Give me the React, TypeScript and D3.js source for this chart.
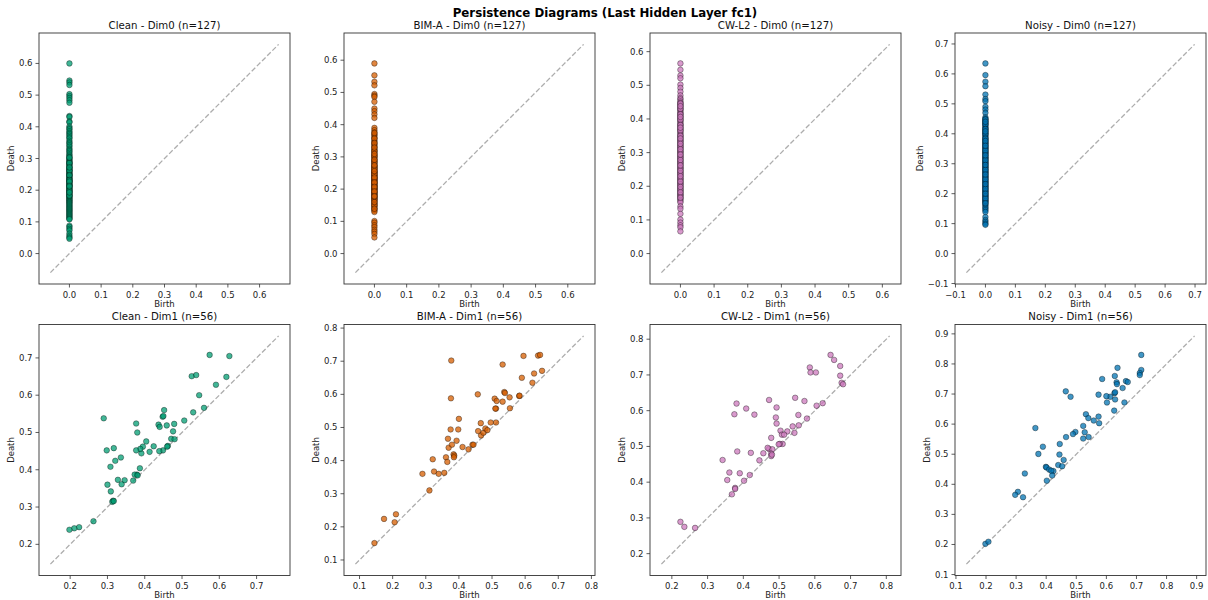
import React from "react";
import * as d3 from "d3";

const suptitle = "Persistence Diagrams (Last Hidden Layer fc1)";
const conditions = ["Clean", "BIM-A", "CW-L2", "Noisy"];
const colors = ["#029e73", "#d55e00", "#cc78bc", "#0173b2"];

// Dim0 deaths (births are all 0)
const cleanDim0 = [0.600, 0.546, 0.540, 0.532, 0.503, 0.497, 0.491, 0.484, 0.476, 0.434, 0.431, 0.417, 0.414,
  0.401, 0.396, 0.392, 0.386, 0.381, 0.377, 0.372, 0.367, 0.363, 0.356, 0.351, 0.347, 0.342, 0.337, 0.331, 0.327, 0.323, 0.318, 0.313, 0.309,
  0.305, 0.301, 0.298, 0.294, 0.291, 0.288, 0.285, 0.283, 0.280, 0.277, 0.274, 0.271, 0.269, 0.266, 0.263, 0.261, 0.258, 0.255, 0.253, 0.250,
  0.248, 0.246, 0.243, 0.241, 0.238, 0.236, 0.233, 0.231, 0.228, 0.226, 0.224, 0.221, 0.219, 0.216, 0.214, 0.211, 0.209, 0.206, 0.204, 0.202,
  0.199, 0.196, 0.194, 0.191, 0.189, 0.186, 0.184, 0.181, 0.179, 0.176, 0.174, 0.171, 0.168, 0.166, 0.163, 0.161, 0.158, 0.155, 0.152, 0.149,
  0.146, 0.143, 0.140, 0.137, 0.134, 0.131, 0.128, 0.125, 0.122, 0.119, 0.116, 0.113, 0.110, 0.108,
  0.088, 0.084, 0.078, 0.073, 0.063, 0.056, 0.051, 0.047,
  0.262, 0.247, 0.232, 0.215, 0.198, 0.183, 0.286, 0.303, 0.227, 0.212, 0.193, 0.272];

const bimDim0 = [0.590, 0.553, 0.533, 0.522, 0.495, 0.490, 0.486, 0.471, 0.450, 0.442, 0.432, 0.421,
  0.390, 0.383, 0.376, 0.370, 0.366, 0.361, 0.356, 0.350, 0.346, 0.341, 0.337, 0.333, 0.328, 0.324, 0.320, 0.316, 0.312, 0.308, 0.304, 0.300,
  0.297, 0.293, 0.289, 0.286, 0.282, 0.279, 0.275, 0.272, 0.268, 0.265, 0.262, 0.258, 0.255, 0.252, 0.249, 0.246, 0.243, 0.240, 0.237, 0.234,
  0.231, 0.228, 0.225, 0.222, 0.219, 0.216, 0.213, 0.210, 0.207, 0.204, 0.201, 0.198, 0.195, 0.192, 0.189, 0.186, 0.183, 0.180, 0.177, 0.174,
  0.171, 0.168, 0.165, 0.162, 0.158, 0.155, 0.152, 0.148, 0.145, 0.141, 0.137, 0.133, 0.129,
  0.101, 0.096, 0.088, 0.082, 0.074, 0.068, 0.061, 0.050,
  0.357, 0.343, 0.318, 0.302, 0.284, 0.270, 0.253, 0.241, 0.226, 0.211, 0.199, 0.184, 0.169, 0.150, 0.374, 0.329, 0.291, 0.263, 0.247, 0.232,
  0.218, 0.203, 0.190, 0.176, 0.160, 0.139, 0.309, 0.274, 0.256, 0.236, 0.221, 0.207, 0.193, 0.178];

const cwDim0 = [0.565, 0.546, 0.529, 0.521, 0.502, 0.492, 0.481, 0.470, 0.462, 0.458,
  0.452, 0.448, 0.444, 0.440, 0.436, 0.432, 0.428, 0.424, 0.420, 0.416, 0.412, 0.408, 0.404, 0.400, 0.396, 0.392, 0.388, 0.384, 0.380, 0.376,
  0.372, 0.368, 0.364, 0.360, 0.356, 0.352, 0.348, 0.344, 0.340, 0.336, 0.332, 0.328, 0.324, 0.320, 0.316, 0.312, 0.308, 0.304, 0.300, 0.296,
  0.292, 0.288, 0.284, 0.280, 0.276, 0.272, 0.268, 0.264, 0.260, 0.256, 0.252, 0.248, 0.244, 0.240, 0.236, 0.232, 0.228, 0.224, 0.220, 0.216,
  0.212, 0.208, 0.204, 0.200, 0.196, 0.192, 0.188, 0.184, 0.180, 0.176, 0.172, 0.168, 0.164, 0.160, 0.156, 0.152,
  0.140, 0.133, 0.118, 0.101, 0.092, 0.084, 0.078, 0.066,
  0.446, 0.430, 0.414, 0.398, 0.382, 0.366, 0.350, 0.334, 0.318, 0.302, 0.286, 0.270, 0.254, 0.238, 0.222, 0.206, 0.190, 0.174, 0.438, 0.406,
  0.374, 0.342, 0.310, 0.278, 0.246, 0.214, 0.182, 0.326, 0.294, 0.262, 0.230, 0.198, 0.166];

const noisyDim0 = [0.635, 0.596, 0.574, 0.559, 0.531, 0.516, 0.509, 0.490, 0.481, 0.470,
  0.455, 0.450, 0.446, 0.442, 0.438, 0.434, 0.430, 0.426, 0.422, 0.418, 0.414, 0.410, 0.406, 0.402, 0.398, 0.394, 0.390, 0.386, 0.382, 0.378,
  0.374, 0.370, 0.366, 0.362, 0.358, 0.354, 0.350, 0.346, 0.342, 0.338, 0.334, 0.330, 0.326, 0.322, 0.318, 0.314, 0.310, 0.306, 0.302, 0.298,
  0.294, 0.290, 0.286, 0.282, 0.278, 0.274, 0.270, 0.266, 0.262, 0.258, 0.254, 0.250, 0.246, 0.242, 0.238, 0.234, 0.230, 0.226, 0.222, 0.218,
  0.214, 0.210, 0.206, 0.202, 0.198, 0.194, 0.190, 0.186, 0.182, 0.178, 0.174, 0.170, 0.165, 0.160, 0.155, 0.150,
  0.122, 0.112, 0.106, 0.100, 0.096,
  0.448, 0.432, 0.416, 0.400, 0.384, 0.368, 0.352, 0.336, 0.320, 0.304, 0.288, 0.272, 0.256, 0.240, 0.224, 0.208, 0.192, 0.176, 0.440, 0.408,
  0.376, 0.344, 0.312, 0.280, 0.248, 0.216, 0.184, 0.360, 0.328, 0.296, 0.264, 0.232, 0.200, 0.168, 0.145, 0.139];

// Dim1 births / deaths
const cleanDim1Birth = [0.574, 0.627, 0.526, 0.538, 0.619, 0.591, 0.546, 0.530, 0.559, 0.506, 0.452, 0.448, 0.450, 0.437, 0.440, 0.459, 0.479, 0.476, 0.471, 0.480,
  0.462, 0.460, 0.449, 0.439, 0.424, 0.404, 0.413, 0.395, 0.391, 0.388, 0.377, 0.380, 0.377, 0.290, 0.298, 0.317, 0.336, 0.321, 0.308, 0.387,
  0.379, 0.373, 0.381, 0.369, 0.346, 0.328, 0.338, 0.300, 0.309, 0.315, 0.313, 0.317, 0.2625, 0.224, 0.211, 0.198];
const cleanDim1Death = [0.708, 0.705, 0.651, 0.654, 0.649, 0.628, 0.600, 0.554, 0.566, 0.532, 0.560, 0.542, 0.544, 0.521, 0.515, 0.519, 0.523, 0.503, 0.483, 0.482,
  0.464, 0.462, 0.452, 0.450, 0.463, 0.476, 0.448, 0.462, 0.444, 0.456, 0.452, 0.500, 0.524, 0.538, 0.452, 0.458, 0.433, 0.424, 0.408, 0.404,
  0.387, 0.387, 0.385, 0.371, 0.372, 0.373, 0.361, 0.360, 0.342, 0.317, 0.314, 0.316, 0.262, 0.246, 0.243, 0.239];

const bimDim1Birth = [0.377, 0.532, 0.595, 0.639, 0.645, 0.590, 0.627, 0.651, 0.622, 0.376, 0.457, 0.508, 0.512, 0.510, 0.514, 0.532, 0.537, 0.539, 0.553, 0.582,
  0.583, 0.554, 0.512, 0.496, 0.466, 0.458, 0.467, 0.474, 0.480, 0.486, 0.400, 0.375, 0.398, 0.367, 0.393, 0.369, 0.379, 0.411, 0.384, 0.386,
  0.385, 0.361, 0.365, 0.441, 0.444, 0.429, 0.321, 0.290, 0.325, 0.339, 0.356, 0.311, 0.210, 0.174, 0.206, 0.145];
const bimDim1Death = [0.702, 0.690, 0.716, 0.717, 0.719, 0.650, 0.663, 0.671, 0.635, 0.588, 0.600, 0.587, 0.557, 0.557, 0.580, 0.578, 0.607, 0.604, 0.591, 0.595,
  0.596, 0.558, 0.515, 0.515, 0.513, 0.489, 0.476, 0.484, 0.497, 0.492, 0.526, 0.494, 0.494, 0.466, 0.460, 0.439, 0.448, 0.441, 0.419, 0.415,
  0.410, 0.410, 0.396, 0.448, 0.448, 0.434, 0.404, 0.360, 0.367, 0.360, 0.363, 0.310, 0.238, 0.224, 0.214, 0.151];

const cwDim1Birth = [0.644, 0.654, 0.671, 0.586, 0.588, 0.603, 0.671, 0.675, 0.679, 0.472, 0.545, 0.571, 0.381, 0.408, 0.375, 0.431, 0.493, 0.491, 0.493, 0.554,
  0.605, 0.622, 0.578, 0.538, 0.555, 0.523, 0.543, 0.504, 0.508, 0.514, 0.478, 0.510, 0.502, 0.499, 0.472, 0.481, 0.456, 0.478, 0.478, 0.480,
  0.383, 0.421, 0.445, 0.342, 0.361, 0.390, 0.355, 0.402, 0.418, 0.377, 0.377, 0.368, 0.224, 0.235, 0.265, 0.468];
const cwDim1Death = [0.756, 0.742, 0.725, 0.721, 0.707, 0.707, 0.698, 0.678, 0.674, 0.630, 0.636, 0.627, 0.620, 0.606, 0.590, 0.589, 0.609, 0.581, 0.564, 0.588,
  0.614, 0.621, 0.578, 0.556, 0.559, 0.542, 0.538, 0.544, 0.533, 0.533, 0.524, 0.507, 0.507, 0.506, 0.493, 0.492, 0.481, 0.480, 0.473, 0.477,
  0.486, 0.482, 0.461, 0.462, 0.427, 0.425, 0.406, 0.404, 0.420, 0.384, 0.381, 0.366, 0.289, 0.275, 0.272, 0.496];

const noisyDim1Birth = [0.716, 0.637, 0.716, 0.711, 0.711, 0.586, 0.628, 0.665, 0.671, 0.634, 0.635, 0.654, 0.627, 0.629, 0.613, 0.600, 0.602, 0.629, 0.660, 0.574,
  0.626, 0.465, 0.481, 0.574, 0.576, 0.558, 0.532, 0.540, 0.523, 0.528, 0.523, 0.541, 0.497, 0.489, 0.466, 0.364, 0.445, 0.389, 0.374, 0.444,
  0.458, 0.399, 0.401, 0.410, 0.424, 0.417, 0.440, 0.453, 0.420, 0.402, 0.329, 0.306, 0.297, 0.323, 0.198, 0.208];
const noisyDim1Death = [0.830, 0.787, 0.780, 0.770, 0.763, 0.750, 0.760, 0.743, 0.740, 0.739, 0.733, 0.720, 0.703, 0.706, 0.691, 0.693, 0.672, 0.682, 0.672, 0.698,
  0.645, 0.709, 0.691, 0.625, 0.603, 0.612, 0.633, 0.620, 0.594, 0.573, 0.552, 0.557, 0.574, 0.567, 0.557, 0.587, 0.534, 0.525, 0.501, 0.499,
  0.481, 0.458, 0.456, 0.449, 0.444, 0.445, 0.464, 0.460, 0.429, 0.412, 0.436, 0.375, 0.365, 0.357, 0.202, 0.209];

const dim0Deaths = [cleanDim0, bimDim0, cwDim0, noisyDim0];
const dim1Births = [cleanDim1Birth, bimDim1Birth, cwDim1Birth, noisyDim1Birth];
const dim1Deaths = [cleanDim1Death, bimDim1Death, cwDim1Death, noisyDim1Death];

const FONT = "DejaVu Sans, Liberation Sans, sans-serif";
const colLefts = [39, 344, 650, 955];
const rowTops = [33, 324.5];
const SIZE = 251;
const TICK_FS = 8.5;

function textWidth(s: string, fs: number) {
  let w = 0;
  for (const c of s) {
    if (c === ".") w += 0.318;
    else if (c === "\u2212" || c === "-") w += 0.838;
    else w += 0.636;
  }
  return w * fs;
}

function Panel({ births, deaths, color, title, left, top }: any) {
  const all = births.concat(deaths);
  const mn = d3.min(all) as number;
  const mx = d3.max(all) as number;
  const r = mx - mn;
  const lo = mn - 0.1 * r;
  const hi = mx + 0.1 * r;
  const pad = 0.05 * (hi - lo);
  const domain = [lo - pad, hi + pad];
  const x = d3.scaleLinear().domain(domain).range([left, left + SIZE]);
  const y = d3.scaleLinear().domain(domain).range([top + SIZE, top]);
  const ticks = x.ticks(7);
  const fmt = d3.format(".1f");
  const labels = ticks.map((t) => fmt(t));
  const maxW = d3.max(labels, (l) => textWidth(l, TICK_FS)) as number;
  const bottom = top + SIZE;
  const clipId = `clip-${Math.round(left)}-${Math.round(top)}`;
  return (
    <g>
      <defs>
        <clipPath id={clipId}>
          <rect x={left} y={top} width={SIZE} height={SIZE} />
        </clipPath>
      </defs>
      <g clipPath={`url(#${clipId})`}>
        <line x1={x(lo)} y1={y(lo)} x2={x(hi)} y2={y(hi)} stroke="#adadad" strokeWidth={1.3} strokeDasharray="5,2.3" />
        {births.map((b: number, i: number) => (
          <circle key={i} cx={x(b)} cy={y(deaths[i])} r={2.8} fill={color} fillOpacity={0.75} stroke="#000" strokeOpacity={0.7} strokeWidth={0.5} />
        ))}
      </g>
      <rect x={left} y={top} width={SIZE} height={SIZE} fill="none" stroke="#333" strokeWidth={0.9} />
      {ticks.map((t, i) => (
        <g key={"x" + i}>
          <line x1={x(t)} x2={x(t)} y1={bottom} y2={bottom + 3.5} stroke="#333" strokeWidth={0.8} />
          <text x={x(t)} y={bottom + 13.5} fontSize={TICK_FS} textAnchor="middle" fill="#222" fontFamily={FONT}>{labels[i]}</text>
          <line x1={left} x2={left - 3.5} y1={y(t)} y2={y(t)} stroke="#333" strokeWidth={0.8} />
          <text x={left - 6.5} y={y(t) + 3} fontSize={TICK_FS} textAnchor="end" fill="#222" fontFamily={FONT}>{labels[i]}</text>
        </g>
      ))}
      <text x={left + SIZE / 2} y={bottom + 22.5} fontSize={TICK_FS} textAnchor="middle" fill="#222" fontFamily={FONT}>Birth</text>
      <text transform={`translate(${left - 7 - maxW - 4},${top + SIZE / 2}) rotate(-90)`} fontSize={TICK_FS} textAnchor="middle" fill="#222" fontFamily={FONT}>Death</text>
      <text x={left + SIZE / 2} y={top - 4.5} fontSize={10.2} textAnchor="middle" fill="#111" fontFamily={FONT}>{title}</text>
    </g>
  );
}

export default function App() {
  return (
    <svg width={1208} height={600} style={{ display: "block", position: "absolute", left: 0, top: 0, background: "#fff" }}>
      <rect width={1208} height={600} fill="#fff" />
      <text x={605} y={16.5} fontSize={11.8} fontWeight="bold" textAnchor="middle" fill="#000" fontFamily={FONT}>{suptitle}</text>
      {conditions.map((c, i) => (
        <Panel key={"d0" + i} births={dim0Deaths[i].map(() => 0)} deaths={dim0Deaths[i]} color={colors[i]}
          title={`${c} - Dim0 (n=${dim0Deaths[i].length})`} left={colLefts[i]} top={rowTops[0]} />
      ))}
      {conditions.map((c, i) => (
        <Panel key={"d1" + i} births={dim1Births[i]} deaths={dim1Deaths[i]} color={colors[i]}
          title={`${c} - Dim1 (n=${dim1Births[i].length})`} left={colLefts[i]} top={rowTops[1]} />
      ))}
    </svg>
  );
}
